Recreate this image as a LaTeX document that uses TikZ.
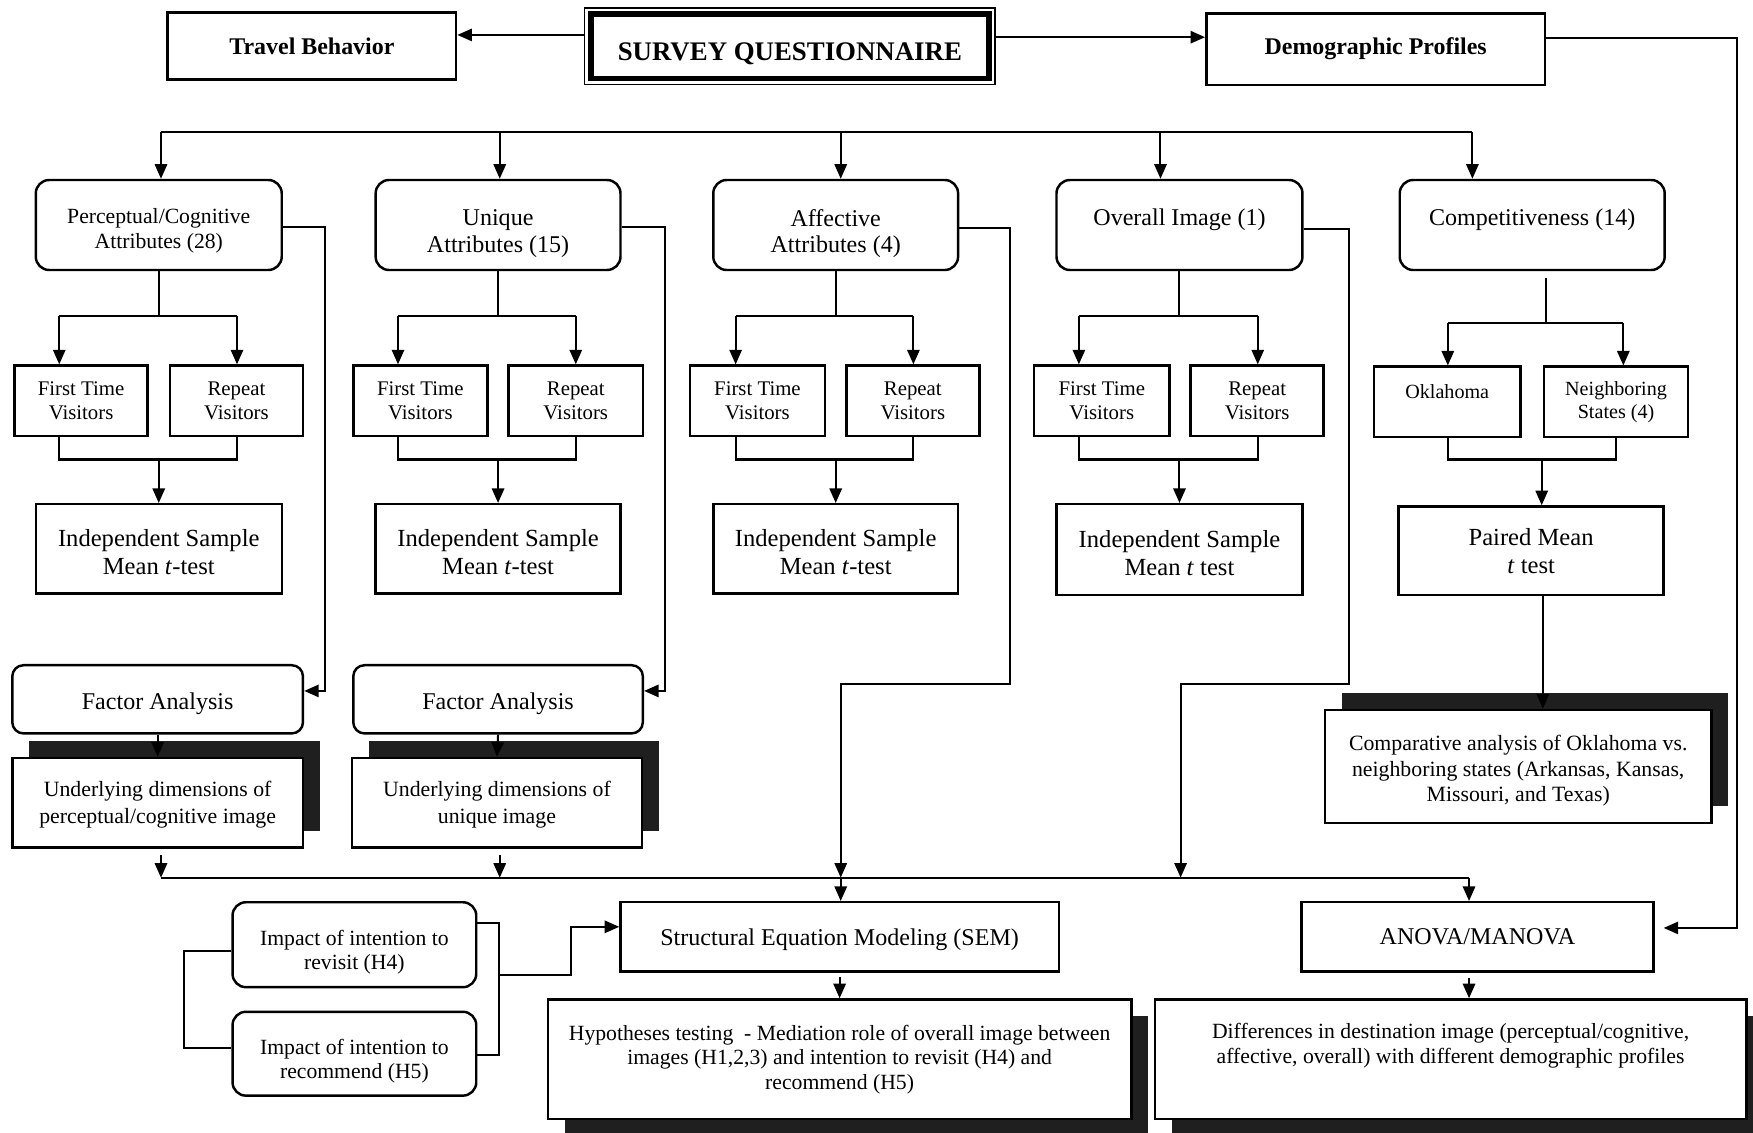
\documentclass[tikz,border=0pt]{standalone}
\usepackage{fontspec}
\setmainfont{Liberation Serif}
\usetikzlibrary{arrows.meta,shadows}
\newcommand\ftB{\fontsize{10.7}{12.8}\selectfont\bfseries}
\newcommand\ftS{\fontsize{12}{14}\selectfont\bfseries}
\newcommand\ftL{\fontsize{10.75}{12}\selectfont}
\newcommand\ftI{\fontsize{11}{12.5}\selectfont}
\newcommand\ftM{\fontsize{9.7}{11}\selectfont}
\newcommand\ftU{\fontsize{9.75}{12}\selectfont}
\newcommand\ftC{\fontsize{9.75}{11.25}\selectfont}
\newcommand\ftT{\fontsize{9.3}{10.5}\selectfont}
\newcommand\ftO{\fontsize{9}{10.5}\selectfont}
\newcommand\dn[1]{\rule{0pt}{#1pt}}
\tikzset{
  wh/.style 2 args={minimum width=#1*0.5pt, minimum height=#2*0.5pt},
  bx/.style={draw, line width=1.1pt, align=center, inner sep=0pt, text=black},
  rbx/.style={bx, rounded corners=6pt},
  ln/.style={line width=0.9pt},
  arr/.style={line width=0.9pt, -{Triangle[length=6.5pt,width=5.5pt]}},
  shup/.style={drop shadow={shadow xshift=7.5pt, shadow yshift=7.5pt, fill=black!88, opacity=1}},
  shdn/.style={drop shadow={shadow xshift=7.5pt, shadow yshift=-7.5pt, fill=black!88, opacity=1}},
}
\begin{document}
\begin{tikzpicture}[x=0.5pt,y=-0.5pt]
\useasboundingbox (0,0) rectangle (1568,1013);
\clip (0,0) rectangle (1568,1013);
\fill[white] (0,0) rectangle (1568,1013);

% top row
\node[bx, wh={258}{60}, font=\ftB] (tb) at (279,41) {Travel Behavior};
\node[draw, line width=0.7pt, wh={367}{68.5}, inner sep=0pt] (sqo) at (706.5,41.25) {};
\node[draw, line width=2.4pt, wh={356}{57.5}, inner sep=0pt, font=\ftS, text height=13pt, text depth=0pt] (sq) at (706.5,41.25) {SURVEY QUESTIONNAIRE};
\node[bx, wh={303}{64}, font=\ftB] (dp) at (1230.5,44) {Demographic Profiles};

% attribute row
\node[rbx, wh={220}{80.5}, font=\ftM] (pc) at (142,201.25) {\dn{11.7}Perceptual/Cognitive\\Attributes (28)};
\node[rbx, wh={219}{80.5}, font=\ftL] (ua) at (445.5,201.25) {\dn{15.1}Unique\\Attributes (15)};
\node[rbx, wh={219}{80.5}, font=\ftL] (aa) at (747.5,201.25) {\dn{15.2}Affective\\Attributes (4)};
\node[rbx, wh={220}{80.5}, font=\ftL, text height=7pt, text depth=7pt] (oi) at (1055,201.25) {Overall Image (1)};
\node[rbx, wh={237}{80.5}, font=\ftL, text height=7pt, text depth=7pt] (cp) at (1370.5,201.25) {Competitiveness (14)};

% visitor boxes
\node[bx, wh={119}{63}, font=\ftT] (ft1) at (72.5,358.5) {First Time\\Visitors};
\node[bx, wh={119}{63}, font=\ftT] (rp1) at (211.5,358.5) {Repeat\\Visitors};
\node[bx, wh={120}{63}, font=\ftT] (ft2) at (376,358.5) {First Time\\Visitors};
\node[bx, wh={120}{63}, font=\ftT] (rp2) at (515,358.5) {Repeat\\Visitors};
\node[bx, wh={121}{63}, font=\ftT] (ft3) at (677.5,358.5) {First Time\\Visitors};
\node[bx, wh={119}{63}, font=\ftT] (rp3) at (816.5,358.5) {Repeat\\Visitors};
\node[bx, wh={121}{63}, font=\ftT] (ft4) at (985.5,358.5) {First Time\\Visitors};
\node[bx, wh={119}{63}, font=\ftT] (rp4) at (1124.5,358.5) {Repeat\\Visitors};
\node[bx, wh={131}{63}, font=\ftO, text height=6pt, text depth=9.5pt] (ok) at (1294.5,359.5) {Oklahoma};
\node[bx, wh={129}{63}, font=\ftO] (ns) at (1445.5,359.5) {Neighboring\\States (4)};

% tests
\node[bx, wh={220}{80}, font=\ftI] (in1) at (142,491) {\dn{10.6}Independent Sample\\Mean \textit{t}-test};
\node[bx, wh={219}{80}, font=\ftI] (in2) at (445.5,491) {\dn{10.6}Independent Sample\\Mean \textit{t}-test};
\node[bx, wh={219}{80}, font=\ftI] (in3) at (747.5,491) {\dn{10.6}Independent Sample\\Mean \textit{t}-test};
\node[bx, wh={220}{81}, font=\ftI] (in4) at (1055,491.5) {\dn{10.6}Independent Sample\\Mean \textit{t} test};
\node[bx, wh={237}{79}, font=\ftI] (pm) at (1369.5,492.5) {Paired Mean\\\textit{t} test};

% factor analysis
\node[rbx, rounded corners=5pt, wh={260}{61}, font=\ftL] (fa1) at (141,625.5) {\dn{11.3}Factor Analysis};
\node[rbx, rounded corners=5pt, wh={259}{61}, font=\ftL] (fa2) at (445.5,625.5) {\dn{11.3}Factor Analysis};
\node[bx, fill=white, shup, wh={260}{80}, font=\ftU] (ud1) at (141,718) {\dn{8.7}Underlying dimensions of\\perceptual/cognitive image};
\node[bx, fill=white, shup, wh={259}{80}, font=\ftU] (ud2) at (444.5,718) {\dn{8.7}Underlying dimensions of\\unique image};
\node[bx, fill=white, shup, wh={346}{101}, font=\ftC] (cm) at (1358,685.5) {\dn{10.7}Comparative analysis of Oklahoma vs.\\neighboring states (Arkansas, Kansas,\\Missouri, and Texas)};

% bottom
\node[bx, wh={392}{62}, font=\ftL] (sem) at (751,838) {\dn{10.4}Structural Equation Modeling (SEM)};
\node[bx, wh={315}{62}, font=\ftL] (an) at (1321.5,838) {ANOVA/MANOVA};
\node[rbx, wh={218}{76}, font=\ftM] (h4) at (317,845) {\dn{13.6}Impact of intention to\\revisit (H4)};
\node[rbx, wh={218}{75}, font=\ftM] (h5) at (317,942.5) {\dn{13.6}Impact of intention to\\recommend (H5)};
\node[bx, fill=white, shdn, wh={522}{107}, font=\ftM] (hyp) at (751,947.5) {Hypotheses testing~ - Mediation role of overall image between\\images (H1,2,3) and intention to revisit (H4) and\\recommend (H5)};
\node[bx, fill=white, shdn, wh={529}{107}, font=\ftM] (dif) at (1297.5,947.5) {Differences in destination image (perceptual/cognitive,\\affective, overall) with different demographic profiles\\\strut};

% top connectors
\draw[arr] ([shift={(0,-10)}]sqo.west) -- ([shift={(0,-10)}]sqo.west -| tb.east);
\draw[arr] ([shift={(0,-8)}]sqo.east) -- ([shift={(0,-8)}]sqo.east -| dp.west);
\draw[arr] ([shift={(0,-10)}]dp.east) -- (1554,34) -- (1554,830) -- ([shift={(8,-8)}]an.east);

% upper bus
\draw[ln] (144,118) -- (1317,118);
\foreach \xx/\nn in {144/pc,447/ua,752/aa,1038/oi,1317/cp}{
  \draw[arr] (\xx,118) -- (\xx,0 |- \nn.north);
}

% sub-trees
\foreach \t/\f/\r/\i/\xa/\xb/\xc in {pc/ft1/rp1/in1/53/212/142, ua/ft2/rp2/in2/356/515/445.5, aa/ft3/rp3/in3/658/817/747.5, oi/ft4/rp4/in4/965/1125/1055}{
  \draw[ln] (\t.south) -- (\xc,283);
  \draw[ln] (\xa,283) -- (\xb,283);
  \draw[arr] (\xa,283) -- (\xa,0 |- \f.north);
  \draw[arr] (\xb,283) -- (\xb,0 |- \r.north);
  \draw[ln] (\xa,0 |- \f.south) -- (\xa,411) -- (\xb,411) -- (\xb,0 |- \r.south);
  \draw[arr] (\xc,411) -- (\xc,0 |- \i.north);
}
\draw[ln] (1383,249) -- (1383,289);
\draw[ln] (1295,289) -- (1452,289);
\draw[arr] (1295,289) -- (1295,0 |- ok.north);
\draw[arr] (1452,289) -- (1452,0 |- ns.north);
\draw[ln] (1295,0 |- ok.south) -- (1295,411) -- (1445,411) -- (1445,0 |- ns.south);
\draw[arr] (1379,411) -- (1379,0 |- pm.north);
\draw[arr] (1380,0 |- pm.south) -- (1380,0 |- cm.north);

% side routes
\draw[arr] (pc.east |- 0,203) -- (291,203) -- (291,618) -- (fa1.east |- 0,618);
\draw[arr] (ua.east |- 0,203) -- (595,203) -- (595,618) -- (fa2.east |- 0,618);
\draw[arr] (aa.east |- 0,204) -- (903,204) -- (903,612) -- (752,612) -- (752,785);
\draw[arr] (oi.east |- 0,205) -- (1207,205) -- (1207,612) -- (1056,612) -- (1056,785);

\draw[arr] (fa1.south) -- (ud1.north);
\draw[arr] (fa2.south) -- (ud2.north);
\draw[arr] (ud1.south) ++(3,6) -- ++(0,20);
\draw[arr] (ud2.south) ++(2.5,6) -- ++(0,20);

% lower bus
\draw[ln] (144,785) -- (1314,785);
\draw[arr] (752,785) -- (752,0 |- sem.north);
\draw[arr] (1314,785) -- (1314,0 |- an.north);
\draw[arr] ([shift={(0,4)}]sem.south) -- (hyp.north);
\draw[arr] (1314,0 |- an.south) ++(0,5) -- (1314,0 |- dif.north);

% brackets
\draw[ln] (h4.west |- 0,851) -- (165,851) -- (165,937) -- (h5.west |- 0,937);
\draw[ln] (h4.east |- 0,826) -- (446,826) -- (446,944) -- (h5.east |- 0,944);
\draw[arr] (446,872) -- (511,872) -- (511,829) -- (sem.west |- 0,829);
\end{tikzpicture}
\end{document}
